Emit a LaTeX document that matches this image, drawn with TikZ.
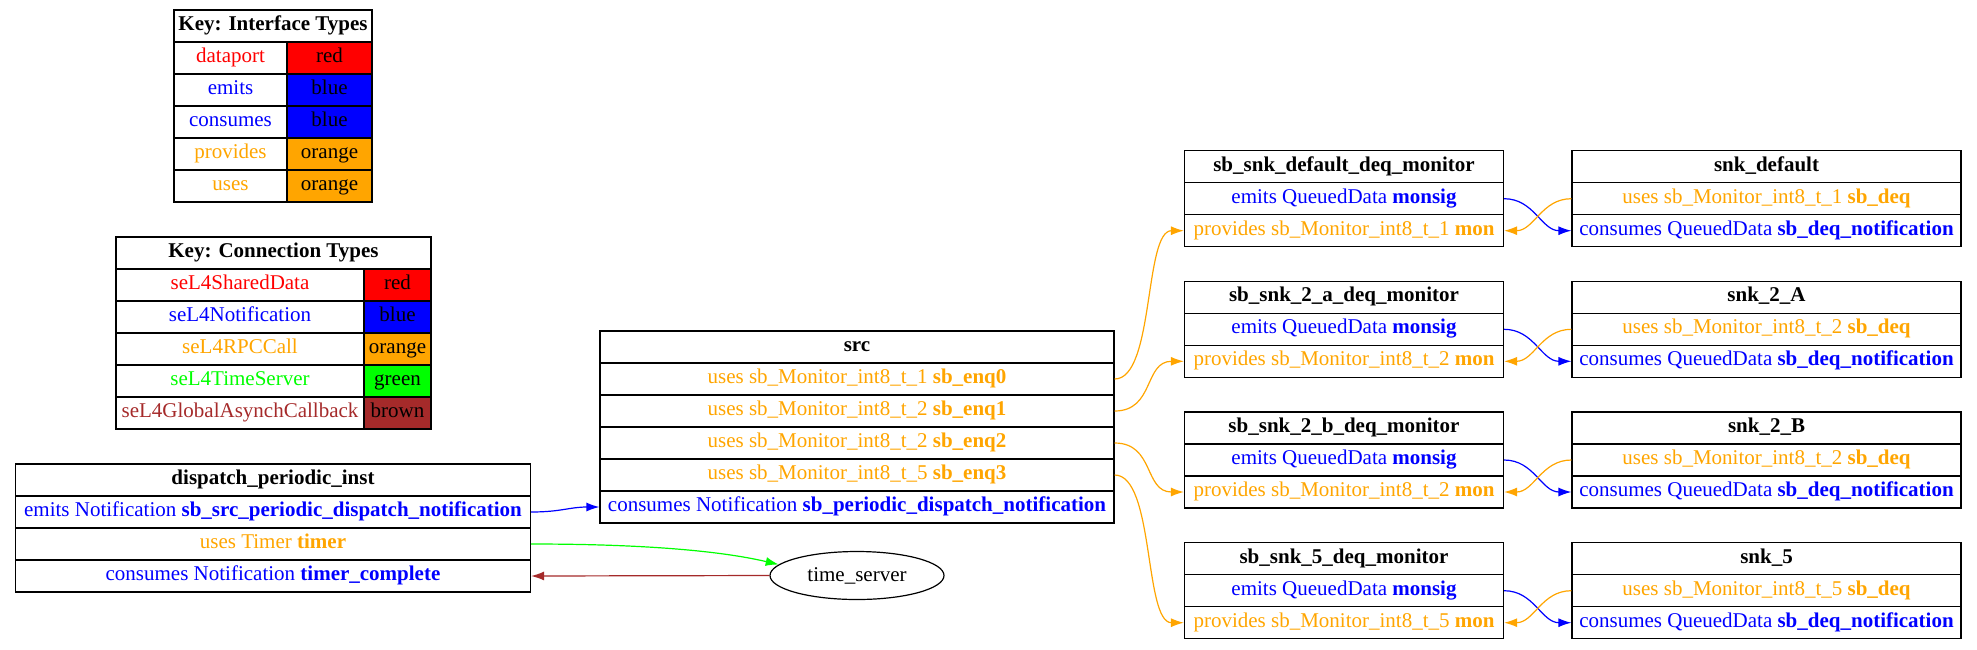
\documentclass[tikz,border=0pt]{standalone}
\usepackage{fontspec}
\setmainfont{Liberation Serif}
\usepackage{tikz}
\usetikzlibrary{arrows.meta, shapes}
\definecolor{gvred}{RGB}{255,0,0}
\definecolor{gvblue}{RGB}{0,0,255}
\definecolor{gvorange}{RGB}{255,165,0}
\definecolor{gvgreen}{RGB}{0,255,0}
\definecolor{gvbrown}{RGB}{165,42,42}
\tikzset{>={Latex[length=13pt,width=9pt]}}
\tikzset{cell/.style={draw, line width=1.2pt, minimum height=32pt, inner sep=0pt, text height=14pt, text depth=5pt, font=\fontsize{21}{25}\selectfont}}
\tikzset{link/.style={->, line width=1.2pt}}
\begin{document}
\begin{tikzpicture}[x=1pt, y=-1pt]
\useasboundingbox (0,0) rectangle (1977,649);
\node[cell, minimum width=198] (keyI) at (273,26) {\textbf{Key: Interface Types}};
\node[cell, minimum width=113, text=gvred] (keyIdp) at (230.5,58) {dataport};
\node[cell, minimum width=85, fill=gvred] (keyIdpc) at (329.5,58) {red};
\node[cell, minimum width=113, text=gvblue] (keyIem) at (230.5,90) {emits};
\node[cell, minimum width=85, fill=gvblue] (keyIemc) at (329.5,90) {blue};
\node[cell, minimum width=113, text=gvblue] (keyIco) at (230.5,122) {consumes};
\node[cell, minimum width=85, fill=gvblue] (keyIcoc) at (329.5,122) {blue};
\node[cell, minimum width=113, text=gvorange] (keyIpr) at (230.5,154) {provides};
\node[cell, minimum width=85, fill=gvorange] (keyIprc) at (329.5,154) {orange};
\node[cell, minimum width=113, text=gvorange] (keyIus) at (230.5,186) {uses};
\node[cell, minimum width=85, fill=gvorange] (keyIusc) at (329.5,186) {orange};

\node[cell, minimum width=315] (keyC) at (273.5,253) {\textbf{Key: Connection Types}};
\node[cell, minimum width=248, text=gvred] (keyCsd) at (240,285) {seL4SharedData};
\node[cell, minimum width=67, fill=gvred] (keyCsdc) at (397.5,285) {red};
\node[cell, minimum width=248, text=gvblue] (keyCno) at (240,317) {seL4Notification};
\node[cell, minimum width=67, fill=gvblue] (keyCnoc) at (397.5,317) {blue};
\node[cell, minimum width=248, text=gvorange] (keyCrpc) at (240,349) {seL4RPCCall};
\node[cell, minimum width=67, fill=gvorange] (keyCrpcc) at (397.5,349) {orange};
\node[cell, minimum width=248, text=gvgreen] (keyCts) at (240,381) {seL4TimeServer};
\node[cell, minimum width=67, fill=gvgreen] (keyCtsc) at (397.5,381) {green};
\node[cell, minimum width=248, text=gvbrown] (keyCga) at (240,413) {seL4GlobalAsynchCallback};
\node[cell, minimum width=67, fill=gvbrown] (keyCgac) at (397.5,413) {brown};

\node[cell, minimum width=515] (dpi) at (273,480) {\textbf{dispatch\_periodic\_inst}};
\node[cell, minimum width=515, text=gvblue] (dpiEmit) at (273,512) {emits Notification \textbf{sb\_src\_periodic\_dispatch\_notification}};
\node[cell, minimum width=515, text=gvorange] (dpiUses) at (273,544) {uses Timer \textbf{timer}};
\node[cell, minimum width=515, text=gvblue] (dpiCons) at (273,576) {consumes Notification \textbf{timer\_complete}};

\node[cell, minimum width=514] (src) at (857,347) {\textbf{src}};
\node[cell, minimum width=514, text=gvorange] (srcA) at (857,379) {uses sb\_Monitor\_int8\_t\_1 \textbf{sb\_enq0}};
\node[cell, minimum width=514, text=gvorange] (srcB) at (857,411) {uses sb\_Monitor\_int8\_t\_2 \textbf{sb\_enq1}};
\node[cell, minimum width=514, text=gvorange] (srcC) at (857,443) {uses sb\_Monitor\_int8\_t\_2 \textbf{sb\_enq2}};
\node[cell, minimum width=514, text=gvorange] (srcD) at (857,475) {uses sb\_Monitor\_int8\_t\_5 \textbf{sb\_enq3}};
\node[cell, minimum width=514, text=gvblue] (srcCons) at (857,507) {consumes Notification \textbf{sb\_periodic\_dispatch\_notification}};

\node[draw, ellipse, line width=1.2pt, minimum width=174pt, minimum height=48pt, inner sep=0pt, font=\fontsize{21}{25}\selectfont] (ts) at (857,575.5) {time\_server};

\node[cell, minimum width=319] (mA) at (1344,166.7) {\textbf{sb\_snk\_default\_deq\_monitor}};
\node[cell, minimum width=319, text=gvblue] (mAEmit) at (1344,198.7) {emits QueuedData \textbf{monsig}};
\node[cell, minimum width=319, text=gvorange] (mAProv) at (1344,230.7) {provides sb\_Monitor\_int8\_t\_1 \textbf{mon}};
\node[cell, minimum width=319] (mB) at (1344,297.3) {\textbf{sb\_snk\_2\_a\_deq\_monitor}};
\node[cell, minimum width=319, text=gvblue] (mBEmit) at (1344,329.3) {emits QueuedData \textbf{monsig}};
\node[cell, minimum width=319, text=gvorange] (mBProv) at (1344,361.3) {provides sb\_Monitor\_int8\_t\_2 \textbf{mon}};
\node[cell, minimum width=319] (mC) at (1344,428) {\textbf{sb\_snk\_2\_b\_deq\_monitor}};
\node[cell, minimum width=319, text=gvblue] (mCEmit) at (1344,460) {emits QueuedData \textbf{monsig}};
\node[cell, minimum width=319, text=gvorange] (mCProv) at (1344,492) {provides sb\_Monitor\_int8\_t\_2 \textbf{mon}};
\node[cell, minimum width=319] (mD) at (1344,558.7) {\textbf{sb\_snk\_5\_deq\_monitor}};
\node[cell, minimum width=319, text=gvblue] (mDEmit) at (1344,590.7) {emits QueuedData \textbf{monsig}};
\node[cell, minimum width=319, text=gvorange] (mDProv) at (1344,622.7) {provides sb\_Monitor\_int8\_t\_5 \textbf{mon}};

\node[cell, minimum width=389] (sA) at (1766.5,166.7) {\textbf{snk\_default}};
\node[cell, minimum width=389, text=gvorange] (sAUses) at (1766.5,198.7) {uses sb\_Monitor\_int8\_t\_1 \textbf{sb\_deq}};
\node[cell, minimum width=389, text=gvblue] (sACons) at (1766.5,230.7) {consumes QueuedData \textbf{sb\_deq\_notification}};
\node[cell, minimum width=389] (sB) at (1766.5,297.3) {\textbf{snk\_2\_A}};
\node[cell, minimum width=389, text=gvorange] (sBUses) at (1766.5,329.3) {uses sb\_Monitor\_int8\_t\_2 \textbf{sb\_deq}};
\node[cell, minimum width=389, text=gvblue] (sBCons) at (1766.5,361.3) {consumes QueuedData \textbf{sb\_deq\_notification}};
\node[cell, minimum width=389] (sC) at (1766.5,428) {\textbf{snk\_2\_B}};
\node[cell, minimum width=389, text=gvorange] (sCUses) at (1766.5,460) {uses sb\_Monitor\_int8\_t\_2 \textbf{sb\_deq}};
\node[cell, minimum width=389, text=gvblue] (sCCons) at (1766.5,492) {consumes QueuedData \textbf{sb\_deq\_notification}};
\node[cell, minimum width=389] (sD) at (1766.5,558.7) {\textbf{snk\_5}};
\node[cell, minimum width=389, text=gvorange] (sDUses) at (1766.5,590.7) {uses sb\_Monitor\_int8\_t\_5 \textbf{sb\_deq}};
\node[cell, minimum width=389, text=gvblue] (sDCons) at (1766.5,622.7) {consumes QueuedData \textbf{sb\_deq\_notification}};

\draw[link, gvblue] (dpiEmit.east) .. controls +(30,0) and +(-30,0) .. (srcCons.west);
\draw[link, gvgreen] (dpiUses.east) .. controls +(110,0) and +(-60,-14) .. (ts.172);
\draw[link, gvbrown] (ts.west) -- (dpiCons.east);

\draw[link, gvorange] (srcA.east) .. controls +(40,0) and +(-40,0) .. (mAProv.west);
\draw[link, gvorange] (srcB.east) .. controls +(40,0) and +(-40,0) .. (mBProv.west);
\draw[link, gvorange] (srcC.east) .. controls +(40,0) and +(-40,0) .. (mCProv.west);
\draw[link, gvorange] (srcD.east) .. controls +(40,0) and +(-40,0) .. (mDProv.west);

\draw[link, gvblue] (mAEmit.east) .. controls +(30,0) and +(-30,0) .. (sACons.west);
\draw[link, gvorange] (sAUses.west) .. controls +(-30,0) and +(30,0) .. (mAProv.east);
\draw[link, gvblue] (mBEmit.east) .. controls +(30,0) and +(-30,0) .. (sBCons.west);
\draw[link, gvorange] (sBUses.west) .. controls +(-30,0) and +(30,0) .. (mBProv.east);
\draw[link, gvblue] (mCEmit.east) .. controls +(30,0) and +(-30,0) .. (sCCons.west);
\draw[link, gvorange] (sCUses.west) .. controls +(-30,0) and +(30,0) .. (mCProv.east);
\draw[link, gvblue] (mDEmit.east) .. controls +(30,0) and +(-30,0) .. (sDCons.west);
\draw[link, gvorange] (sDUses.west) .. controls +(-30,0) and +(30,0) .. (mDProv.east);
\end{tikzpicture}
\end{document}
